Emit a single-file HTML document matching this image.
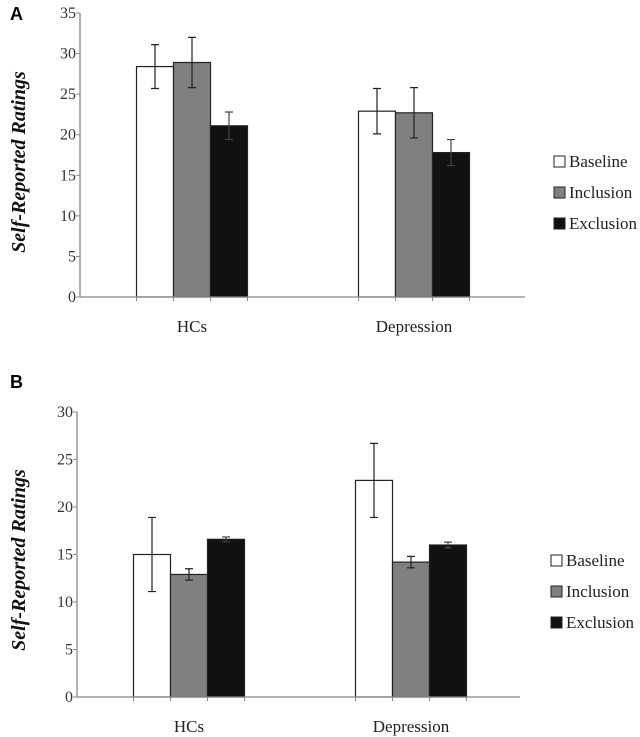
<!DOCTYPE html>
<html><head><meta charset="utf-8"><style>
body{margin:0;background:#fff;}
svg{display:block;font-family:"Liberation Serif",serif;}
</style></head><body>
<svg id="s" width="640" height="737"></svg>
<script>
const categories=["HCs","Depression"];
const seriesNames=["Baseline","Inclusion","Exclusion"];
const aBaseline=[28.4,22.9], aInclusion=[28.9,22.7], aExclusion=[21.1,17.8];
const aBaselineErr=[2.7,2.8], aInclusionErr=[3.1,3.1], aExclusionErr=[1.7,1.6];
const bBaseline=[15.0,22.8], bInclusion=[12.9,14.2], bExclusion=[16.6,16.0];
const bBaselineErr=[3.9,3.9], bInclusionErr=[0.6,0.6], bExclusionErr=[0.25,0.3];
const aTicks=[0,5,10,15,20,25,30,35];
const bTicks=[0,5,10,15,20,25,30];
const fills=["#ffffff","#808080","#111111"];
const NS="http://www.w3.org/2000/svg";
const svg=document.getElementById('s');
function mk(tag,attrs,parent,text){const e=document.createElementNS(NS,tag);for(const k in attrs)e.setAttribute(k,attrs[k]);if(text!==undefined)e.textContent=text;(parent||svg).appendChild(e);return e;}
function panel(cfg){
  const g=mk('g',{});
  
  
  const y=v=>cfg.y0-(v/cfg.max)*(cfg.y0-cfg.yTop);
  const groupX=i=>cfg.gx[i];
  const bw=37;
  const l=mk('text',{x:10,y:cfg.letterY,'font-family':'Liberation Sans,sans-serif','font-weight':'bold','font-size':18,fill:'#000'},g,cfg.letter);
  
  const yt=mk('text',{transform:`translate(25,${cfg.labelY}) rotate(-90)`,'text-anchor':'middle','font-style':'italic','font-weight':'bold','font-size':20,fill:'#111'},g,'Self-Reported Ratings');
  
  cfg.ticks.forEach(t=>{
    mk('line',{x1:cfg.ax-4,x2:cfg.ax,y1:y(t),y2:y(t),stroke:'#888'},g);
    const tl=mk('text',{x:cfg.ax-4,y:y(t)+5,'text-anchor':'end','font-size':16,fill:'#333'},g,String(t));
    
  });
  const series=[cfg.vals[0],cfg.vals[1],cfg.vals[2]];
  categories.forEach((c,i)=>{
    series.forEach((s,j)=>{
      const x0=groupX(i)+(j-1.5)*bw;
      const r=mk('rect',{x:x0,y:y(s[i]),width:bw,height:cfg.y0-y(s[i]),fill:fills[j],stroke:'#222','stroke-width':1.2},g);
      
      
      const e=cfg.errs[j][i],cx=x0+bw/2;
      const eb=mk('path',{d:`M${cx},${y(s[i]+e)}V${y(s[i]-e)}M${cx-4},${y(s[i]+e)}h8M${cx-4},${y(s[i]-e)}h8`,stroke:j==2?'#444':'#222','stroke-width':1.2,fill:'none'},g);
      
    });
    for(let k=0;k<4;k++)mk('line',{x1:groupX(i)+(k-1.5)*bw,x2:groupX(i)+(k-1.5)*bw,y1:cfg.y0,y2:cfg.y0+4,stroke:'#888'},g);
    const cl=mk('text',{x:groupX(i),y:cfg.y0+35,'text-anchor':'middle','font-size':17,fill:'#222'},g,c);
    
  });
  mk('line',{x1:cfg.ax,x2:cfg.ax,y1:cfg.yTop,y2:cfg.y0,stroke:'#888','stroke-width':1.3},g);
  mk('line',{x1:cfg.ax,x2:cfg.axEnd,y1:cfg.y0,y2:cfg.y0,stroke:'#888','stroke-width':1.3},g);
  seriesNames.forEach((n,j)=>{
    const ly=cfg.legY+j*31;
    const le=mk('g',{},g);
    
    mk('rect',{x:cfg.legX,y:ly-6,width:11,height:11,fill:fills[j],stroke:'#222'},le);
    mk('text',{x:cfg.legX+15,y:ly+5,'font-size':17,fill:'#222'},le,n);
  });
}
panel({letter:'A',letterY:20,labelY:162,ax:80,axEnd:525,y0:297,yTop:13,max:35,ticks:aTicks,gx:[192,414],
  vals:[aBaseline,aInclusion,aExclusion],errs:[aBaselineErr,aInclusionErr,aExclusionErr],legX:554,legY:162});
panel({letter:'B',letterY:388,labelY:560,ax:77,axEnd:520,y0:697,yTop:412,max:30,ticks:bTicks,gx:[189,411],
  vals:[bBaseline,bInclusion,bExclusion],errs:[bBaselineErr,bInclusionErr,bExclusionErr],legX:551,legY:561});
</script>
</body></html>
